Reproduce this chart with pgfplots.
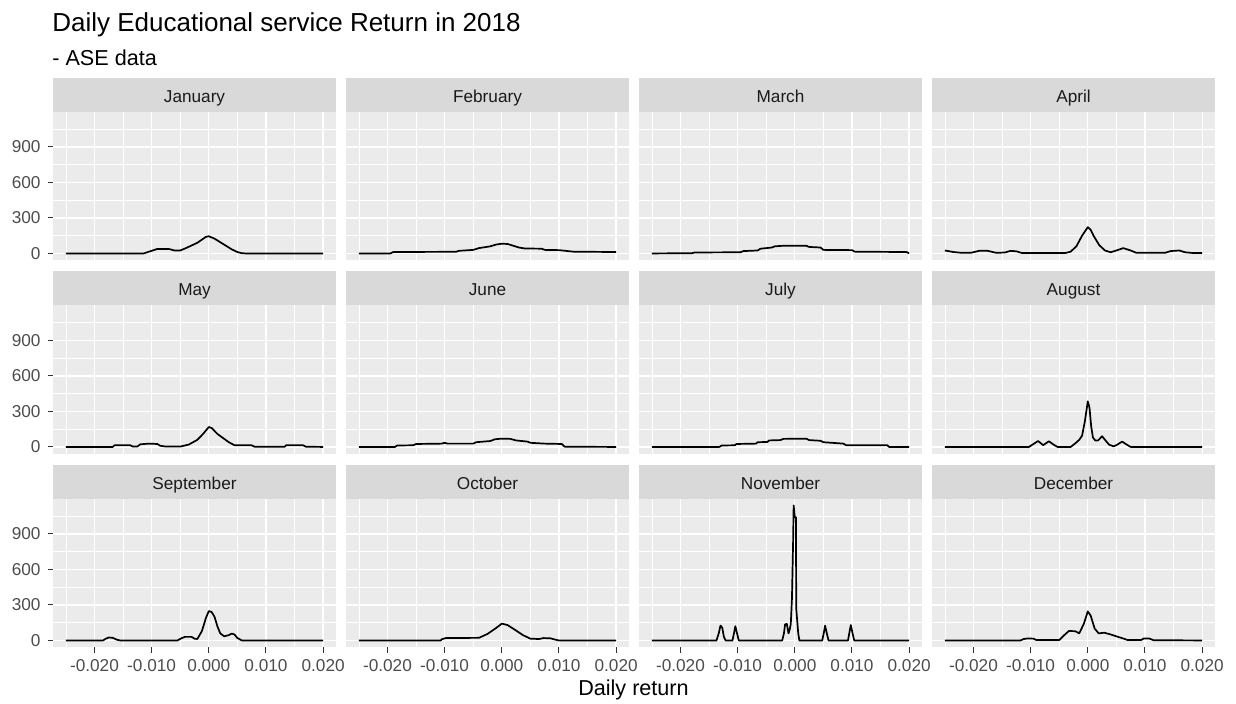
\documentclass[border=0pt]{standalone}
\usepackage{fontspec}
\setmainfont{Liberation Sans}
\usepackage{pgfplots}
\pgfplotsset{compat=1.18}
\usepgfplotslibrary{groupplots}

\definecolor{bggray}{HTML}{EBEBEB}
\definecolor{stripgray}{HTML}{D9D9D9}
\definecolor{ticklab}{HTML}{4D4D4D}
\definecolor{tickmark}{HTML}{333333}
\definecolor{striptext}{HTML}{1A1A1A}

\newcommand{\smallfont}{\fontsize{8.6}{10}\selectfont}

\pgfplotsset{
  panel/.style={
    scale only axis, width=141.5pt, height=74.25pt,
    xmin=-0.02725, xmax=0.02225, ymin=-57, ymax=1197,
    axis background/.style={fill=bggray},
    axis line style={draw=none},
    xtick={-0.02,-0.01,0,0.01,0.02},
    ytick={0,300,600,900},
    minor xtick={-0.025,-0.015,-0.005,0.005,0.015},
    minor ytick={150,450,750,1050},
    scaled x ticks=false, scaled y ticks=false,
    grid=both,
    major grid style={white, line width=0.65pt},
    minor grid style={white, line width=0.35pt},
    tick align=outside, tick pos=left,
    major tick length=2.7pt, minor tick length=0pt,
    xtick style={draw=none}, ytick style={draw=none},
    xticklabels={}, yticklabels={},
    ticklabel style={font=\smallfont, text=ticklab},
    cycle list={{black}},
    every axis plot post/.append style={black, line width=0.85pt, line join=round},
    no marks,
  },
  lefty/.style={
    ytick style={draw=tickmark, line width=0.5pt},
    yticklabels={0,300,600,900},
  },
  bottomx/.style={
    xtick style={draw=tickmark, line width=0.5pt},
    xticklabels={-0.020,-0.010,0.000,0.010,0.020},
  },
  strip/.style={
    extra description/.append code={
      \fill[stripgray] (rel axis cs:0,1) rectangle ([yshift=17pt]rel axis cs:1,1);
      \node[font=\smallfont, text=striptext, anchor=base, inner sep=0pt]
        at ([yshift=4.8pt]rel axis cs:0.5,1) {#1};
    },
  },
}

\begin{document}
\begin{tikzpicture}
\begin{groupplot}[
  group style={group size=4 by 3, horizontal sep=5pt, vertical sep=22.5pt},
  panel]
% ---- row 1
\nextgroupplot[strip=January, lefty]
\addplot coordinates {(-0.025,0) (-0.0114,0) (-0.0095,30) (-0.009,38) (-0.007,38) (-0.006,25) (-0.005,25) (-0.004,45) (-0.002,90) (-0.0005,140) (0,145) (0.001,125) (0.002,95) (0.003,65) (0.004,35) (0.005,12) (0.0058,2) (0.0065,0) (0.020,0)};
\nextgroupplot[strip=February]
\addplot coordinates {(-0.025,0) (-0.0195,0) (-0.019,12) (-0.008,14) (-0.0075,22) (-0.005,30) (-0.004,45) (-0.002,60) (-0.001,75) (0,82) (0.001,80) (0.002,65) (0.003,50) (0.004,42) (0.007,40) (0.0075,30) (0.01,28) (0.0125,15) (0.020,12)};
\nextgroupplot[strip=March]
\addplot coordinates {(-0.025,0) (-0.018,2) (-0.0175,8) (-0.0095,10) (-0.009,20) (-0.0065,25) (-0.006,40) (-0.004,50) (-0.0035,60) (-0.002,65) (0.002,65) (0.0025,55) (0.0045,50) (0.005,30) (0.010,28) (0.0105,15) (0.0195,12) (0.020,2)};
\nextgroupplot[strip=April]
\addplot coordinates {(-0.025,25) (-0.0235,12) (-0.022,5) (-0.0205,5) (-0.019,22) (-0.0175,22) (-0.016,5) (-0.0145,8) (-0.0135,22) (-0.0125,18) (-0.0115,3) (-0.004,3) (-0.003,15) (-0.002,60) (-0.001,150) (0,222) (0.0005,200) (0.001,150) (0.002,70) (0.003,25) (0.004,10) (0.005,25) (0.0062,45) (0.0075,25) (0.0085,5) (0.0135,5) (0.0145,20) (0.016,25) (0.017,10) (0.0185,3) (0.020,3)};
% ---- row 2
\nextgroupplot[strip=May, lefty]
\addplot coordinates {(-0.025,0) (-0.0168,0) (-0.0165,14) (-0.0137,14) (-0.0133,3) (-0.0125,3) (-0.012,22) (-0.0105,28) (-0.009,25) (-0.0085,10) (-0.0075,3) (-0.005,3) (-0.0035,20) (-0.002,60) (-0.001,110) (0,168) (0.0005,160) (0.0015,110) (0.0035,40) (0.0045,14) (0.0075,14) (0.008,2) (0.0133,2) (0.0135,14) (0.0165,14) (0.017,2) (0.020,0)};
\nextgroupplot[strip=June]
\addplot coordinates {(-0.025,0) (-0.0187,0) (-0.0183,12) (-0.0155,14) (-0.015,25) (-0.0105,28) (-0.010,35) (-0.0095,28) (-0.005,28) (-0.0045,40) (-0.002,50) (-0.0012,65) (0,70) (0.0015,68) (0.0025,55) (0.0045,45) (0.005,35) (0.0075,28) (0.0105,25) (0.011,2) (0.020,0)};
\nextgroupplot[strip=July]
\addplot coordinates {(-0.025,0) (-0.0132,0) (-0.0128,12) (-0.0105,14) (-0.0102,25) (-0.0068,28) (-0.0065,40) (-0.0048,42) (-0.0045,55) (-0.0025,58) (-0.002,68) (0.002,70) (0.0025,58) (0.0045,52) (0.005,40) (0.0085,28) (0.009,14) (0.0162,14) (0.0165,0) (0.020,0)};
\nextgroupplot[strip=August]
\addplot coordinates {(-0.025,0) (-0.0103,0) (-0.0095,25) (-0.0087,50) (-0.0078,15) (-0.0068,48) (-0.006,20) (-0.0053,0) (-0.003,0) (-0.0022,30) (-0.0015,60) (-0.001,95) (-0.0005,220) (0,385) (0.0003,330) (0.0006,170) (0.0009,80) (0.0013,55) (0.0018,55) (0.0025,90) (0.0031,55) (0.0037,20) (0.0045,5) (0.005,15) (0.006,45) (0.0068,20) (0.0075,0) (0.020,0)};
% ---- row 3
\nextgroupplot[strip=September, lefty, bottomx]
\addplot coordinates {(-0.025,0) (-0.0185,0) (-0.018,15) (-0.0175,25) (-0.0168,22) (-0.016,5) (-0.0155,0) (-0.0055,0) (-0.0048,18) (-0.0042,30) (-0.003,30) (-0.0025,15) (-0.002,12) (-0.0012,80) (-0.0005,190) (0,248) (0.0005,240) (0.001,200) (0.0015,120) (0.002,60) (0.0027,35) (0.0035,45) (0.004,58) (0.0045,50) (0.005,20) (0.0058,0) (0.020,0)};
\nextgroupplot[strip=October, bottomx]
\addplot coordinates {(-0.025,0) (-0.0107,0) (-0.0105,10) (-0.0098,20) (-0.004,22) (-0.0025,55) (-0.001,105) (0,142) (0.001,130) (0.0023,90) (0.0037,45) (0.005,15) (0.0065,12) (0.0073,20) (0.0085,18) (0.0095,5) (0.010,0) (0.020,0)};
\nextgroupplot[strip=November, bottomx]
\addplot coordinates {(-0.025,0) (-0.0137,0) (-0.0133,60) (-0.013,125) (-0.0127,110) (-0.0124,30) (-0.0121,0) (-0.0109,0) (-0.0106,70) (-0.0104,120) (-0.0101,60) (-0.0098,0) (-0.0022,0) (-0.0019,60) (-0.0017,135) (-0.0014,140) (-0.0011,60) (-0.0009,90) (-0.0007,140) (-0.0005,350) (-0.0003,820) (-0.0002,1140) (0,1040) (0.0002,1040) (0.00025,270) (0.0006,60) (0.0008,0) (0.0048,0) (0.0051,70) (0.0053,125) (0.0056,60) (0.0059,0) (0.0093,0) (0.0096,80) (0.0098,130) (0.0101,60) (0.0104,0) (0.020,0)};
\nextgroupplot[strip=December, bottomx]
\addplot coordinates {(-0.025,0) (-0.0118,0) (-0.0112,12) (-0.0105,17) (-0.0095,15) (-0.009,3) (-0.005,3) (-0.004,50) (-0.0033,80) (-0.0022,78) (-0.0015,60) (-0.0007,140) (0,245) (0.0005,210) (0.0012,100) (0.0019,60) (0.0029,65) (0.0039,52) (0.0053,30) (0.0063,15) (0.007,3) (0.0093,3) (0.0098,17) (0.0107,17) (0.0115,2) (0.020,0)};
\end{groupplot}

% page frame and outer texts, in a 1236 x 704 grid
\coordinate (O) at (group c1r1.north west);
\begin{scope}[shift={(O)}, xshift=-26.5pt, yshift=55.85pt, x=0.5pt, y=-0.5pt]
  \path (0,0) rectangle (1236,704);
  \node[anchor=base west, inner sep=0pt, font=\fontsize{13}{15}\selectfont] at (52,31.5) {Daily Educational service Return in 2018};
  \node[anchor=base west, inner sep=0pt, font=\fontsize{10.8}{13}\selectfont] at (52,65.5) {- ASE data};
  \node[anchor=base, inner sep=0pt, font=\fontsize{10.8}{13}\selectfont] at (633.5,696) {Daily return};
\end{scope}
\end{tikzpicture}
\end{document}
